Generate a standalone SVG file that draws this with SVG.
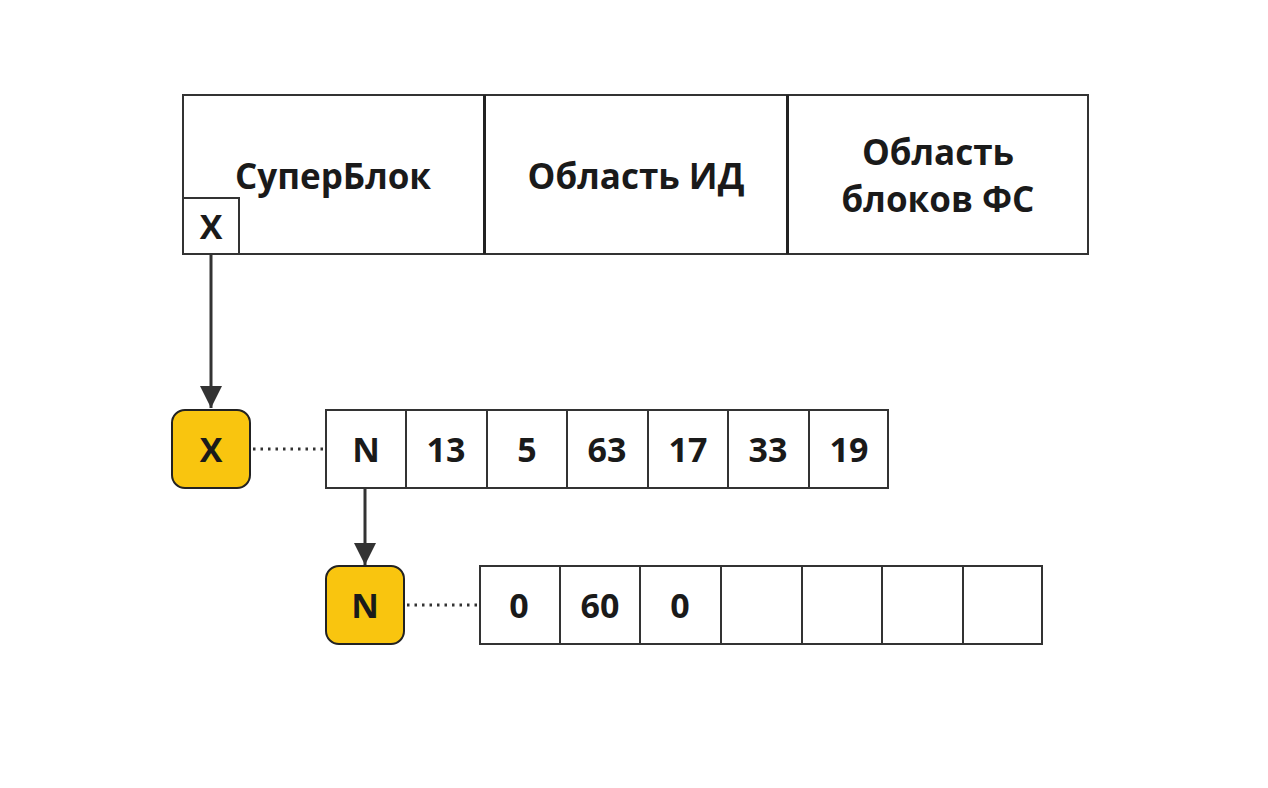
<svg xmlns="http://www.w3.org/2000/svg" width="1268" height="788" viewBox="0 0 1268 788">
<style>
.box{fill:#fff;stroke:#333;stroke-width:2}
.div{stroke:#222;stroke-width:3}
.yel{fill:#F9C50F;stroke:#222;stroke-width:2}
.t{font-family:"Open Sans","DejaVu Sans",sans-serif;font-weight:bold;fill:#1a1a1a;text-anchor:middle;dominant-baseline:central}
.tl{font-size:35px}
.tc{font-size:34px}
.conn{stroke:#333;stroke-width:3;fill:none}
.dot{stroke:#333;stroke-width:3;stroke-dasharray:2.5 5;fill:none}
</style>
<defs>
<marker id="ah2" viewBox="0 0 22 22" refX="22" refY="11" markerWidth="22" markerHeight="22" markerUnits="userSpaceOnUse" orient="auto">
<path d="M0,0 L22,11 L0,22 Z" fill="#333"/>
</marker>
</defs>
<rect width="1268" height="788" fill="#fff"/>
<g id="top">
<rect class="box" x="183" y="95" width="905" height="159"/>
<line class="div" x1="484.5" y1="95" x2="484.5" y2="254"/>
<line class="div" x1="787.5" y1="95" x2="787.5" y2="254"/>
</g>
<g id="superblock"><text class="t tl" x="333" y="175">СуперБлок</text></g>
<g id="idarea"><text class="t tl" x="636" y="175">Область ИД</text></g>
<g id="fsarea"><text class="t tl" x="938" y="151">Область</text><text class="t tl" x="938" y="198">блоков ФС</text></g>
<g id="sbx"><rect class="box" x="183" y="198" width="56" height="56"/><text class="t tc" x="211" y="226">X</text></g>
<g id="connectors">
<line class="conn" x1="211" y1="255" x2="211" y2="408" marker-end="url(#ah2)"/>
<line class="conn" x1="365" y1="489" x2="365" y2="565" marker-end="url(#ah2)"/>
<line class="dot" x1="253" y1="449" x2="325" y2="449"/>
<line class="dot" x1="407" y1="605" x2="479" y2="605"/>
</g>
<g id="nodeX"><rect class="yel" x="172" y="410" width="78" height="78" rx="13"/><text class="t tc" x="211" y="449">X</text></g>
<g id="nodeN"><rect class="yel" x="326" y="566" width="78" height="78" rx="13"/><text class="t tc" x="365" y="605">N</text></g>
<g id="row1">
<rect class="box" x="326" y="410" width="80" height="78"/><text class="t tc" x="366" y="449">N</text>
<rect class="box" x="406" y="410" width="81" height="78"/><text class="t tc" x="446" y="449">13</text>
<rect class="box" x="487" y="410" width="80" height="78"/><text class="t tc" x="527" y="449">5</text>
<rect class="box" x="567" y="410" width="81" height="78"/><text class="t tc" x="607" y="449">63</text>
<rect class="box" x="648" y="410" width="80" height="78"/><text class="t tc" x="688" y="449">17</text>
<rect class="box" x="728" y="410" width="81" height="78"/><text class="t tc" x="768" y="449">33</text>
<rect class="box" x="809" y="410" width="79" height="78"/><text class="t tc" x="849" y="449">19</text>
</g>
<g id="row2">
<rect class="box" x="480" y="566" width="80" height="78"/><text class="t tc" x="519" y="605">0</text>
<rect class="box" x="560" y="566" width="80" height="78"/><text class="t tc" x="600" y="605">60</text>
<rect class="box" x="640" y="566" width="81" height="78"/><text class="t tc" x="680" y="605">0</text>
<rect class="box" x="721" y="566" width="81" height="78"/>
<rect class="box" x="802" y="566" width="80" height="78"/>
<rect class="box" x="882" y="566" width="81" height="78"/>
<rect class="box" x="963" y="566" width="79" height="78"/>
</g>
</svg>
